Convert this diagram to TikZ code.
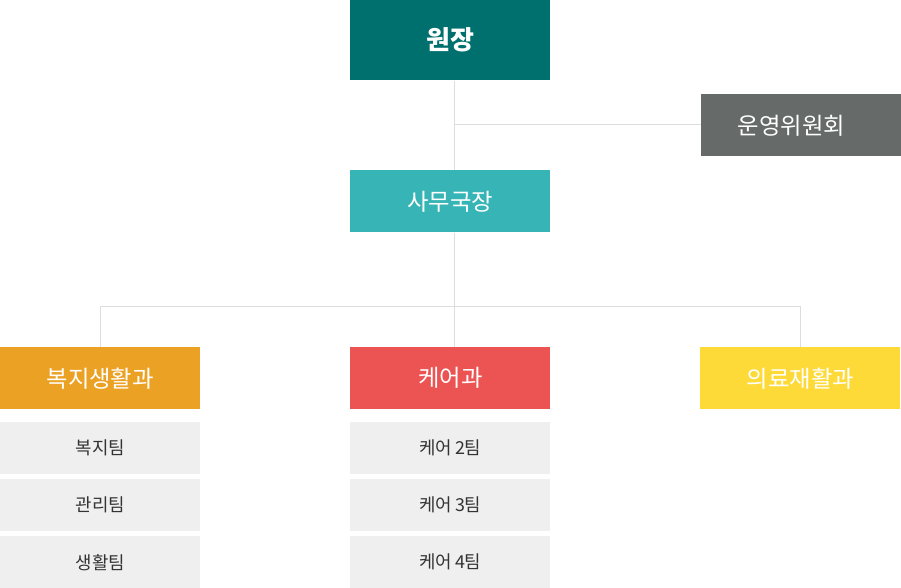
\documentclass[tikz,border=0pt]{standalone}
\usepackage{fontspec}
\setmainfont{Noto Sans CJK KR}
\definecolor{chief}{HTML}{00706F}
\definecolor{board}{HTML}{666B6A}
\definecolor{office}{HTML}{37B4B5}
\definecolor{welfare}{HTML}{EBA224}
\definecolor{care}{HTML}{EB5453}
\definecolor{medical}{HTML}{FDDA37}
\definecolor{team}{HTML}{EFEFEF}
\definecolor{link}{HTML}{DDDDDD}
\tikzset{
	box/.style={rectangle,anchor=north west,inner sep=0pt,minimum width=150pt,minimum height=46.5pt,text=white,font=\fontsize{17.5}{19}\selectfont},
	teambox/.style={rectangle,anchor=north west,inner sep=0pt,minimum width=150pt,minimum height=39pt,fill=team,text=black!80,font=\fontsize{13.4}{15}\selectfont},
	link/.style={draw=link,line width=0.75pt}
}
\begin{document}
\begin{tikzpicture}[x=0.75pt,y=-0.75pt]
	\useasboundingbox (0,0) rectangle (901,588);
	\node[box,fill=chief,minimum height=60pt,font=\bfseries\fontsize{19.5}{21}\selectfont] (wonjang) at (350,0) {원장};
	\node[box,fill=board] (unyeong) at (701,94) {운영위원회\kern15pt};
	\node[box,fill=office] (samu) at (350,170) {사무국장};
	
	\node[box,fill=welfare] (bokji) at (0,347) {복지생활과};
	\node[box,fill=care] (keo) at (350,347) {케어과};
	\node[box,fill=medical] (uiryo) at (700,347) {의료재활과};
	
	\node[teambox] (t1) at (0,422) {복지팀};
	\node[teambox] (t2) at (0,479) {관리팀};
	\node[teambox] (t3) at (0,536) {생활팀};
	\node[teambox] (c2) at (350,422) {케어\,2팀};
	\node[teambox] (c3) at (350,479) {케어\,3팀};
	\node[teambox] (c4) at (350,536) {케어\,4팀};
	
	\coordinate (j1) at (454,125);
	\coordinate (j2) at (454,307);
	\coordinate (jl) at (100,307);
	\coordinate (jr) at (800,307);
	
	\draw[link] (wonjang.south -| j1) -- (samu.north -| j1);
	\draw[link] (j1) -- (unyeong.west |- j1);
	
	\draw[link] (samu.south -| j2) -- (keo.north -| j2);
	\draw[link] (bokji.north -| jl) -- (jl) -- (jr) -- (uiryo.north -| jr);
	
\end{tikzpicture}
\end{document}
